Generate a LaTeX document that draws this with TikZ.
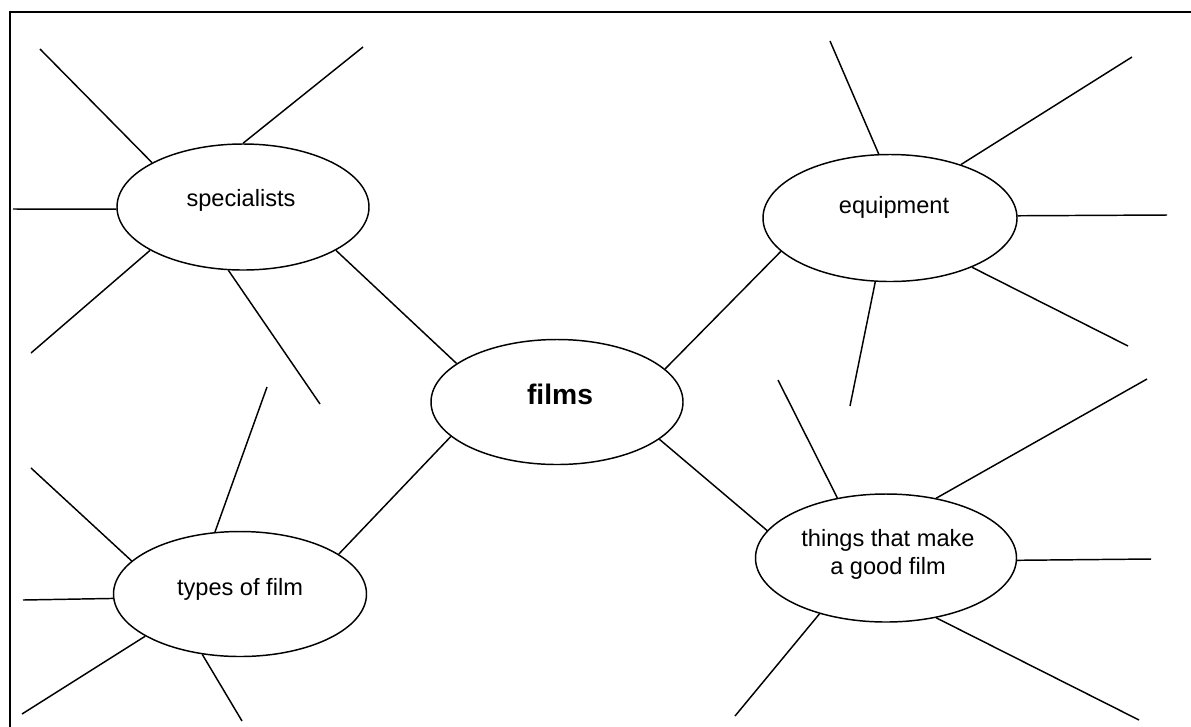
\documentclass[tikz,border=0pt]{standalone}
\usepackage{fontspec}
\setmainfont{Liberation Sans}
\usetikzlibrary{shapes.geometric}
\tikzset{
  bubble/.style={ellipse, draw, line width=1.1pt, inner sep=0pt},
  txt/.style={inner sep=0pt, align=center, font=\fontsize{17.7}{21}\selectfont},
  bigtxt/.style={inner sep=0pt, font=\fontsize{21.2}{25}\selectfont\bfseries},
  spoke/.style={line width=1.1pt},
  frame/.style={line width=1.6pt}
}
\begin{document}
\begin{tikzpicture}[x=0.75pt,y=-0.75pt]
\useasboundingbox (0,0) rectangle (1191,726);
% frame (only top and left edges visible)
\coordinate (fTR) at (1195,12);
\coordinate (fTL) at (10,12);
\coordinate (fBL) at (10,730);
\draw[frame] (fTR) -- (fTL) -- (fBL);

% ellipses
\node[bubble, minimum width=189pt, minimum height=94.5pt] (spec) at (243,207) {};
\node[bubble, minimum width=189pt, minimum height=93.75pt] (films) at (557,402) {};
\node[bubble, minimum width=190.5pt, minimum height=95.25pt] (equip) at (890,218) {};
\node[bubble, minimum width=189.75pt, minimum height=93.75pt] (types) at (240,594) {};
\node[bubble, minimum width=195.75pt, minimum height=96pt] (things) at (886,558) {};

% texts
\node[txt] (specT) at (241,200) {specialists};
\node[bigtxt] (filmsT) at (560,394.5) {films};
\node[txt] (equipT) at (894,207) {equipment};
\node[txt] (typesT) at (240,589) {types of film};
\node[txt] (thingsT) at (888,554) {things that make\\a good film};

% central connectors
\draw[spoke] (spec.-25.05) -- (films.159.5);
\draw[spoke] (films.17.6) -- (equip.197.1);
\draw[spoke] (films.198.4) -- (types.22.9);
\draw[spoke] (films.-20.1) -- (things.167.6);

% specialists spokes
\coordinate (s1) at (40,49);
\coordinate (s2) at (363,47);
\coordinate (s3) at (13,209);
\coordinate (s4) at (31,353);
\coordinate (s5) at (320,404);
\draw[spoke] (s1) -- (spec.154.2);
\draw[spoke] (s2) -- (spec.90);
\draw[spoke] (s3) -- (spec.181);
\draw[spoke] (s4) -- (spec.205.3);
\draw[spoke] (s5) -- (spec.-103.4);

% equipment spokes
\coordinate (e1) at (830,41);
\coordinate (e2) at (1132,57);
\coordinate (e3) at (1167,215);
\coordinate (e4) at (1128,346);
\coordinate (e5) at (850,406);
\draw[spoke] (e1) -- (equip.100.6);
\draw[spoke] (e2) -- (equip.37.1);
\draw[spoke] (e3) -- (equip.1.4);
\draw[spoke] (e4) -- (equip.-31);
\draw[spoke] (e5) -- (equip.-103.2);

% types spokes
\coordinate (t1) at (267,387);
\coordinate (t2) at (31,468);
\coordinate (t3) at (23,600);
\coordinate (t4) at (22,714);
\coordinate (t5) at (242,721);
\draw[spoke] (t1) -- (types.112.7);
\draw[spoke] (t2) -- (types.163.8);
\draw[spoke] (t3) -- (types.182.3);
\draw[spoke] (t4) -- (types.204.1);
\draw[spoke] (t5) -- (types.238.6);

% things spokes
\coordinate (g1) at (778,380);
\coordinate (g2) at (1147,379);
\coordinate (g3) at (1151,559);
\coordinate (g4) at (1139,720);
\coordinate (g5) at (735,716);
\draw[spoke] (g1) -- (things.129.6);
\draw[spoke] (g2) -- (things.50.7);
\draw[spoke] (g3) -- (things.-1.3);
\draw[spoke] (g4) -- (things.-50.5);
\draw[spoke] (g5) -- (things.220.7);
\end{tikzpicture}
\end{document}
